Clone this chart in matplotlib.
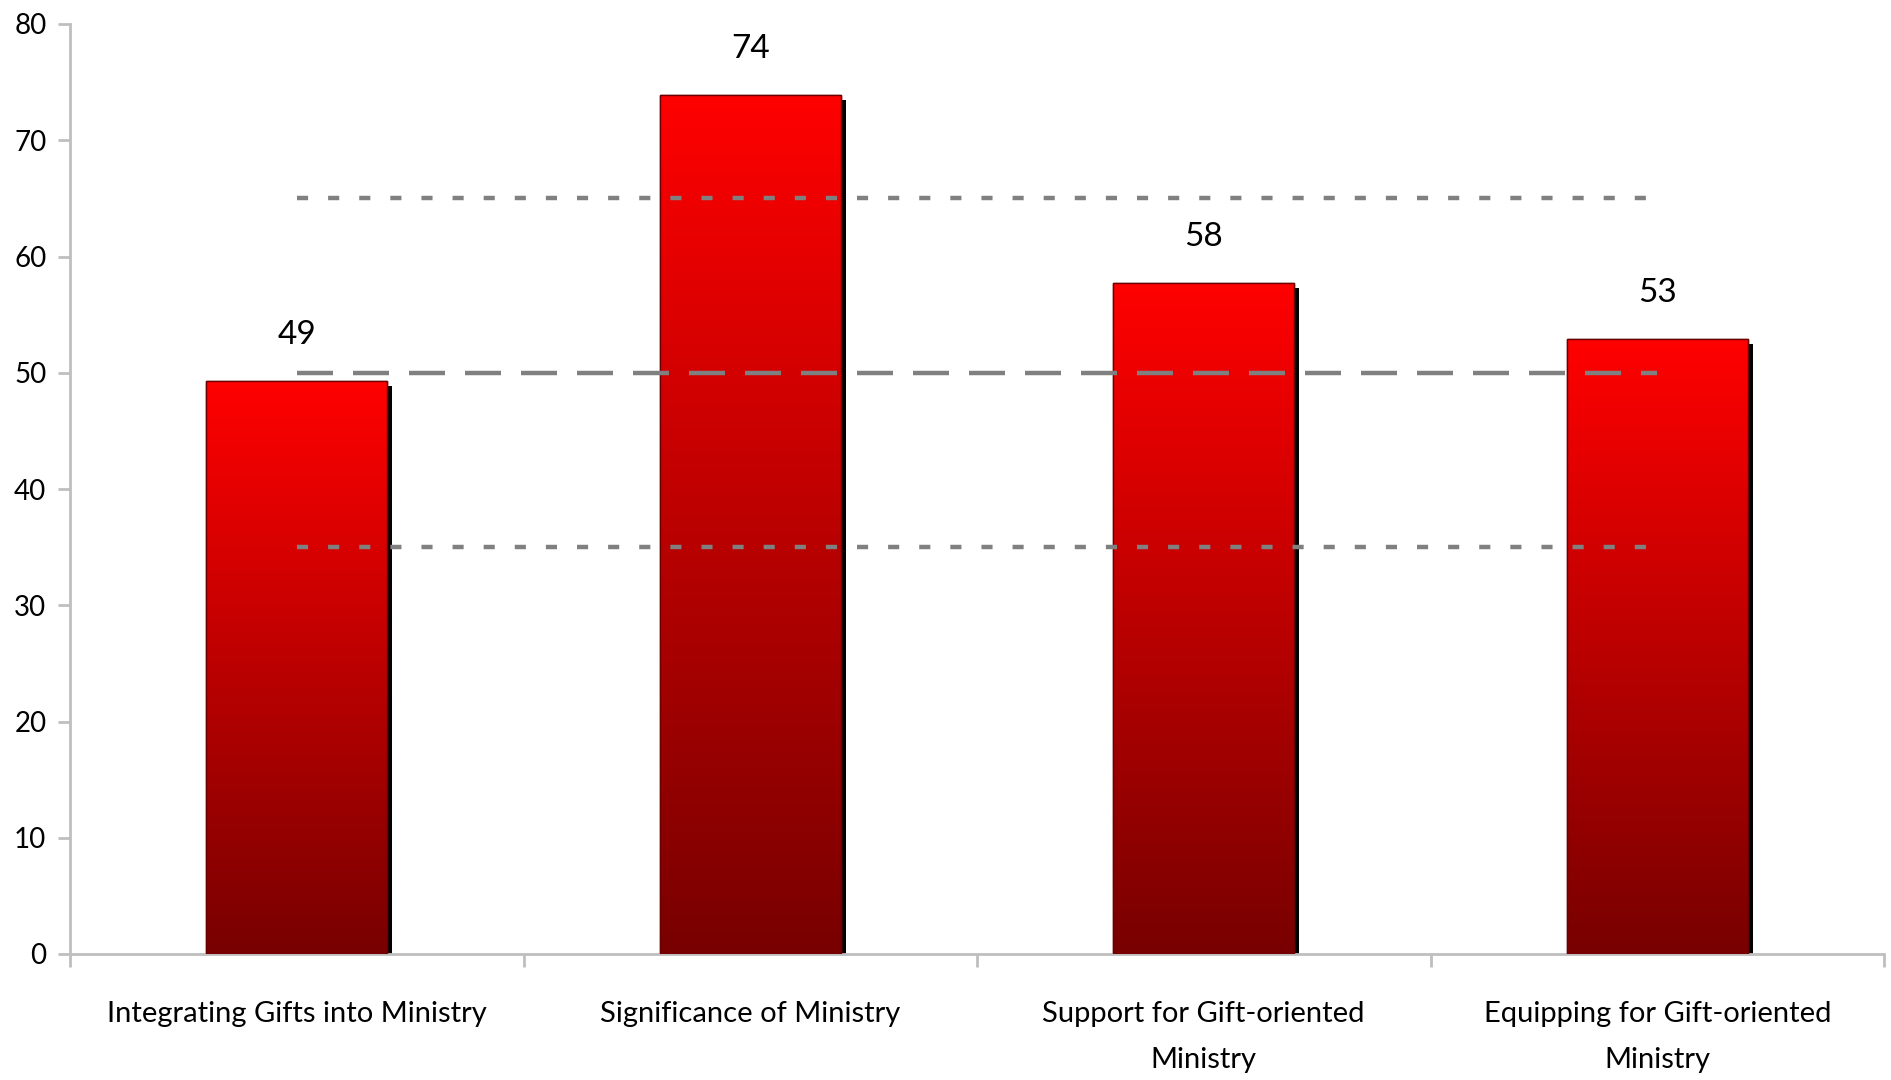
import numpy as np
import matplotlib
matplotlib.use('Agg')
import matplotlib.pyplot as plt
import matplotlib.patheffects as pe
from matplotlib.colors import LinearSegmentedColormap

plt.rcParams['font.family'] = ['Lato', 'DejaVu Sans']

# data
categories = ['Integrating Gifts into Ministry', 'Significance of Ministry',
              'Support for Gift-oriented\nMinistry', 'Equipping for Gift-oriented\nMinistry']
values = [49.3, 73.9, 57.7, 52.9]
value_labels = ['49', '74', '58', '53']
upper_ref = 65
mid_ref = 50
lower_ref = 35

fig = plt.figure(figsize=(18.91, 10.80), dpi=100)
ax = fig.add_axes([70 / 1891, 126 / 1080, (1884 - 70) / 1891, (954 - 24) / 1080])

x = np.arange(len(categories))
cmap = LinearSegmentedColormap.from_list('redgrad', ['#780000', '#FF0000'])
grad = np.linspace(0, 1, 256).reshape(-1, 1)

bars = ax.bar(x, values, width=0.4, color='#780000', edgecolor='#6a0000', linewidth=1.0, zorder=2,
              path_effects=[pe.SimplePatchShadow(offset=(3.6, -3.6), shadow_rgbFace='black', alpha=1.0),
                            pe.Normal()])
for b in bars:
    x0, w, h = b.get_x(), b.get_width(), b.get_height()
    im = ax.imshow(grad, cmap=cmap, aspect='auto', origin='lower',
                   extent=[x0, x0 + w, 0, h], zorder=3)
    im.set_clip_path(b)
    # outline on top of the gradient
    ax.add_patch(plt.Rectangle((x0, 0), w, h, fill=False, edgecolor='#6a0000', linewidth=1.0, zorder=4))

for xi, v, lab in zip(x, values, value_labels):
    ax.text(xi, v + 2.7, lab, ha='center', va='bottom', fontsize=24, color='black')

# reference lines
ax.plot([0, 3], [upper_ref, upper_ref], color='#808080', lw=3.2, linestyle=(0, (2.5, 4.5)),
        dash_capstyle='butt', zorder=5)
ax.plot([0, 3], [lower_ref, lower_ref], color='#808080', lw=3.2, linestyle=(0, (2.5, 4.5)),
        dash_capstyle='butt', zorder=5)
ax.plot([0, 3], [mid_ref, mid_ref], color='#808080', lw=3.2, linestyle=(0, (8.1, 4.5)),
        dash_capstyle='butt', zorder=5)

ax.set_xlim(-0.5, 3.5)
ax.set_ylim(0, 80)
ax.set_yticks(range(0, 81, 10))
ax.set_xticks(x)
ax.set_xticklabels(categories, fontsize=21, linespacing=1.95)
ax.set_xticks(np.arange(-0.5, 3.6, 1), minor=True)
ax.tick_params(axis='x', which='major', length=0, pad=34)
ax.tick_params(axis='x', which='minor', length=9, width=2, color='#BFBFBF')
ax.tick_params(axis='y', length=9, width=2, color='#BFBFBF', labelsize=20, pad=8)

for s in ['top', 'right']:
    ax.spines[s].set_visible(False)
for s in ['left', 'bottom']:
    ax.spines[s].set_color('#BFBFBF')
    ax.spines[s].set_linewidth(2)

plt.savefig('out.png', dpi=100)
